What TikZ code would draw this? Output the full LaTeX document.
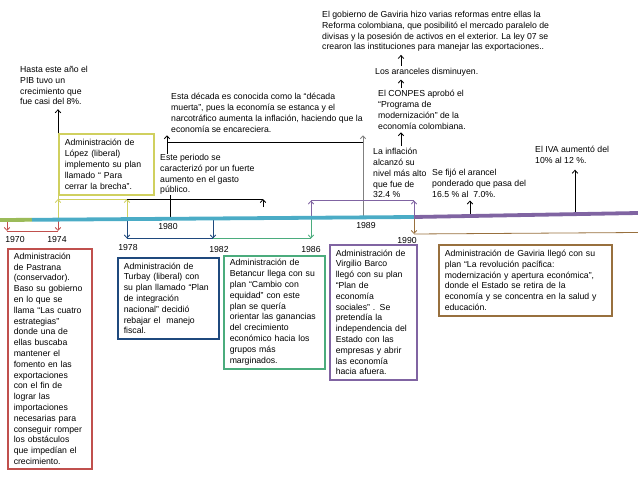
\documentclass[tikz,border=0pt]{standalone}
\usepackage{fontspec}
\setmainfont{Liberation Sans}
\usetikzlibrary{arrows.meta}

\definecolor{teal1}{RGB}{75,172,198}
\definecolor{olive1}{RGB}{155,187,89}
\definecolor{purple1}{RGB}{128,100,162}
\definecolor{red1}{RGB}{192,80,77}
\definecolor{navy1}{RGB}{31,73,125}
\definecolor{green1}{RGB}{75,172,125}
\definecolor{yellow1}{RGB}{208,208,95}
\definecolor{brown1}{RGB}{152,112,62}
\definecolor{gray1}{RGB}{128,128,128}

\begin{document}
\begin{tikzpicture}[
  x=1pt, y=-1pt,
  txt/.style = {font=\fontsize{8.7}{10.8}\selectfont, align=left,
    inner sep=0pt, anchor=north west},
  adm/.style = {txt, draw=#1, line width=1.5pt, inner xsep=6pt},
  yr/.style  = {font=\fontsize{8.7}{10}\selectfont, inner sep=0pt},
  ln/.style  = {line width=0.8pt},
  arr/.style = {ln, -{Straight Barb[length=3pt,width=5.5pt]}},
  tl/.style  = {line width=3.8pt}
]
\useasboundingbox (0,0) rectangle (638,479);

%% ---- marks on the time line ----
\coordinate (L0) at (0,220);
\coordinate (L1) at (32,219.8);
\coordinate (L2) at (414,217);
\coordinate (L3) at (638,213);
\coordinate (m1970) at (7,220);
\coordinate (m1974) at (58,219.6);
\coordinate (m1978) at (127,219.1);
\coordinate (m1980) at (170,218.8);
\coordinate (m1982) at (213,218.5);
\coordinate (m1986) at (311,217.8);
\coordinate (m1989) at (363,217.4);
\coordinate (m1990) at (414,217);
\coordinate (mAr) at (470,216);
\coordinate (mIva) at (575,214.1);

%% bar levels
\coordinate (rbar) at (0,231);
\coordinate (bbar) at (0,238.5);
\coordinate (brbar) at (0,234);
\coordinate (brend) at (638,232.5);
\coordinate (ybar) at (0,199);
\coordinate (blkend) at (263,199);
\coordinate (pbar) at (0,200.5);
\coordinate (tbar) at (0,142);
\coordinate (cx) at (401,0);

%% ---- texts above the line ----
\node[txt] (hasta) at (20,66) {Hasta este año el\\PIB tuvo un\\crecimiento que\\fue casi del 8\%.};
\node[adm=yellow1, text width=83pt, minimum height=61pt] (lopez) at (58,133)
  {Administración de\\López (liberal)\\implemento su plan\\llamado “ Para\\cerrar la brecha”.};
\node[txt] (decada) at (171,93) {Esta década es conocida como la “década\\muerta”, pues la economía se estanca y el\\narcotráfico aumenta la inflación, haciendo que la\\economía se encareciera.};
\node[txt] (este) at (160,154) {Este periodo se\\caracterizó por un fuerte\\aumento en el gasto\\público.};
\node[txt] (reforma) at (322,11) {El gobierno de Gaviria hizo varias reformas entre ellas la\\Reforma colombiana, que posibilitó el mercado paralelo de\\divisas y la posesión de activos en el exterior. La ley 07 se\\crearon las instituciones para manejar las exportaciones..};
\node[txt] (aranceles) at (375,68) {Los aranceles disminuyen.};
\node[txt] (conpes) at (378,90) {El CONPES aprobó el\\“Programa de\\modernización” de la\\economía colombiana.};
\node[txt] (inflacion) at (373,148) {La inflación\\alcanzó su\\nivel más alto\\que fue de\\32.4 \%};
\node[txt] (arancel) at (432,169) {Se fijó el arancel\\ponderado que pasa del\\16.5 \% al\ \ 7.0\%.};
\node[txt] (iva) at (535,146) {El IVA aumentó del\\10\% al 12 \%.};

%% ---- boxes below the line ----
\node[adm=red1, text width=72pt, minimum height=220pt] (pastrana) at (7,248)
  {Administración\\de Pastrana\\(conservador).\\Baso su gobierno\\en lo que se\\llama “Las cuatro\\estrategias”\\donde una de\\ellas buscaba\\mantener el\\fomento en las\\exportaciones\\con el fin de\\lograr las\\importaciones\\necesarias para\\conseguir romper\\los obstáculos\\que impedían el\\crecimiento.};
\node[adm=navy1, text width=89pt, minimum height=81pt] (turbay) at (117,257)
  {Administración de\\Turbay (liberal) con\\su plan llamado “Plan\\de integración\\nacional” decidió\\rebajar el\ \ manejo\\fiscal.};
\node[adm=green1, text width=89pt, minimum height=113pt] (betancur) at (223,255)
  {Administración de\\Betancur llega con su\\plan “Cambio con\\equidad” con este\\plan se quería\\orientar las ganancias\\del crecimiento\\económico hacia los\\grupos más\\marginados.};
\node[adm=purple1, text width=75pt, minimum height=135pt] (barco) at (329,244)
  {Administración de\\Virgilio Barco\\llegó con su plan\\“Plan de\\economía\\sociales” . Se\\pretendía la\\independencia del\\Estado con las\\empresas y abrir\\las economía\\hacia afuera.};
\node[adm=brown1, text width=161pt, minimum height=71pt] (gaviria) at (438,244)
  {Administración de Gaviria llegó con su\\plan “La revolución pacífica:\\modernización y apertura económica”,\\donde el Estado se retira de la\\economía y se concentra en la salud y\\educación.};

%% ---- years ----
\node[yr] (y1970) at (15,240) {1970};
\node[yr] (y1974) at (57,240) {1974};
\node[yr] (y1980) at (168,227) {1980};
\node[yr] (y1978) at (128,248) {1978};
\node[yr] (y1982) at (219,250) {1982};
\node[yr] (y1986) at (311,250) {1986};
\node[yr] (y1989) at (366,226) {1989};
\node[yr] (y1990) at (407,241) {1990};

%% ---- brackets below ----
\draw[ln, red1] (m1970 |- rbar) -- (m1974 |- rbar);
\draw[arr, red1] (m1970) -- (m1970 |- rbar);
\draw[arr, red1] (m1974) -- (m1974 |- rbar);
\draw[ln, navy1] (m1978 |- bbar) -- (m1982 |- bbar);
\draw[arr, navy1] (m1978) -- (m1978 |- bbar);
\draw[arr, navy1] (m1982) -- (m1982 |- bbar);
\draw[ln, green1] (m1982 |- bbar) -- (m1986 |- bbar);
\draw[arr, green1] (m1986) -- (m1986 |- bbar);
\draw[ln, brown1] (m1990 |- brbar) -- (brend);
\draw[arr, brown1] (m1990) -- (m1990 |- brbar);

%% ---- brackets above ----
\draw[ln, yellow1] (m1974) -- (lopez.south west);
\draw[ln, yellow1] (m1974 |- ybar) -- (m1978 |- ybar);
\draw[arr, yellow1] (m1974) -- (m1974 |- ybar);
\draw[arr, yellow1] (m1978) -- (m1978 |- ybar);
\draw[ln] (m1978 |- ybar) -- (blkend);
\draw[arr] (blkend) ++(0,8) -- (blkend);
\draw[arr, shorten >=4pt] (lopez.north west) -- (lopez.north west |- hasta.south);

\coordinate (a1980) at ([xshift=7pt]este.north west);
\draw[ln] (m1980) -- (m1980 |- este.south);
\draw[ln] (a1980 |- tbar) -- (m1989 |- tbar);
\draw[arr, shorten >=3pt] (a1980) -- (a1980 |- decada.south);
\draw[arr, gray1, shorten >=3pt] (m1989) -- (m1989 |- decada.south);

\draw[ln, purple1] (m1986 |- pbar) -- (m1990 |- pbar);
\draw[arr, purple1] (m1986) -- (m1986 |- pbar);
\draw[arr, purple1] (m1990) -- (m1990 |- pbar);

%% chain to the top
\draw[arr, shorten <=2pt, shorten >=3pt] (inflacion.north -| cx) -- (conpes.south -| cx);
\draw[arr, shorten <=2pt, shorten >=3pt] (conpes.north -| cx) -- (aranceles.south -| cx);
\draw[arr, shorten <=2pt, shorten >=3pt] (aranceles.north -| cx) -- (reforma.south -| cx);

\draw[arr, shorten >=3pt] (mAr) -- (mAr |- arancel.south);
\draw[arr, shorten >=6pt] (mIva) -- (mIva |- iva.south);

%% ---- time line ----
\draw[tl, olive1] (L0) -- (L1);
\draw[tl, teal1] (L1) -- (L2);
\draw[tl, purple1] (L2) -- (L3);

\end{tikzpicture}
\end{document}
